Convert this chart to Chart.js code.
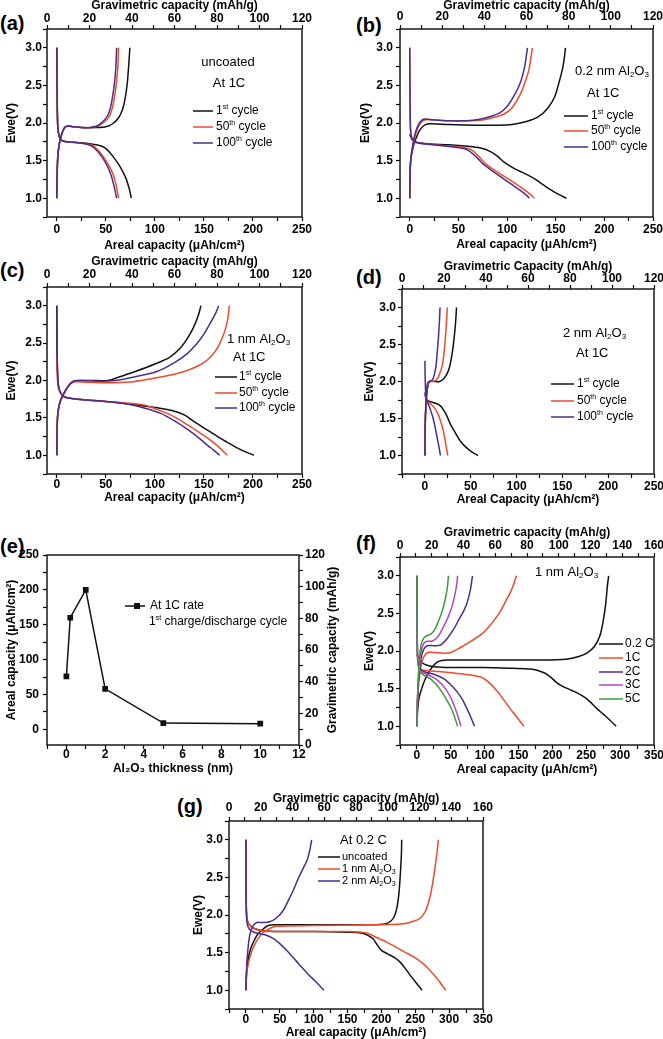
<!DOCTYPE html>
<html>
<head>
<meta charset="utf-8">
<script src="https://cdn.jsdelivr.net/npm/chart.js@4.4.0/dist/chart.umd.min.js"></script>
<style>
  body { margin: 0; background: #fff; width: 663px; height: 1039px; position: relative; overflow: hidden;
         font-family: "Liberation Sans", Arial, Helvetica, sans-serif; }
  canvas { position: absolute; }
  .lbl { position: absolute; font-weight: bold; font-size: 20px; line-height: 20px; color: #000; }
</style>
</head>
<body>
<div class="lbl" style="left:0;top:13px">(a)</div>
<div class="lbl" style="left:356px;top:15px">(b)</div>
<div class="lbl" style="left:0;top:260px">(c)</div>
<div class="lbl" style="left:356px;top:267px">(d)</div>
<div class="lbl" style="left:0;top:536px">(e)</div>
<div class="lbl" style="left:356px;top:533px">(f)</div>
<div class="lbl" style="left:177px;top:796px">(g)</div>
<script>
// --- DATA: [areal capacity (uAh/cm2), voltage (V)] ---
// (a) uncoated, 1C
const aDis1 = [[0,3.0],[0.4,2.3],[1,1.95],[2.5,1.82],[5,1.77],[10,1.75],[20,1.74],[30,1.73],[40,1.71],[46,1.69],[51,1.65],[57,1.56],[64,1.43],[70,1.28],[74,1.12],[76,1.0]];
const aDis50 = [[0,3.0],[0.4,2.3],[1,1.95],[2.5,1.82],[5,1.77],[10,1.75],[20,1.74],[30,1.72],[37,1.70],[42,1.64],[47,1.56],[52,1.46],[57,1.33],[60,1.2],[63,1.0]];
const aDis100 = [[0,3.0],[0.4,2.3],[1,1.95],[2.5,1.82],[5,1.77],[10,1.75],[20,1.74],[30,1.72],[36,1.69],[41,1.63],[46,1.55],[51,1.44],[55,1.32],[58,1.18],[61,1.0]];
const aChg1 = [[0,1.0],[0.3,1.3],[1,1.55],[2.5,1.72],[5,1.85],[8,1.94],[11,1.96],[15,1.955],[25,1.94],[40,1.94],[50,1.95],[57,1.99],[63,2.07],[67,2.18],[70,2.35],[72,2.55],[73.5,2.8],[74.5,3.0]];
const aChg50 = [[0,1.0],[0.3,1.3],[1,1.55],[2.5,1.72],[5,1.85],[8,1.94],[11,1.96],[15,1.955],[25,1.94],[35,1.94],[42,1.96],[49,2.02],[54,2.1],[57,2.22],[60,2.45],[62,2.7],[63,3.0]];
const aChg100 = [[0,1.0],[0.3,1.3],[1,1.55],[2.5,1.72],[5,1.85],[8,1.94],[11,1.96],[15,1.955],[25,1.94],[34,1.94],[41,1.96],[47,2.02],[52,2.1],[55,2.22],[58,2.45],[60,2.7],[61,3.0]];

// (b) 0.2 nm Al2O3, 1C
const bDis1 = [[0,1.85],[1,1.82],[3,1.77],[8,1.74],[20,1.72],[40,1.71],[60,1.69],[72,1.67],[83,1.62],[90,1.56],[97,1.48],[108,1.39],[118,1.33],[128,1.26],[137,1.18],[145,1.11],[153,1.05],[161,1.0]];
const bDis50 = [[0,3.0],[0.4,2.2],[1.2,1.85],[4,1.76],[10,1.73],[25,1.71],[45,1.69],[60,1.66],[66,1.62],[72,1.54],[77,1.47],[85,1.39],[97,1.29],[108,1.2],[118,1.11],[124,1.05],[128,1.0]];
const bDis100 = [[0,3.0],[0.4,2.2],[1.2,1.85],[4,1.76],[10,1.73],[25,1.71],[45,1.68],[58,1.65],[64,1.6],[70,1.53],[75,1.46],[83,1.38],[94,1.28],[104,1.19],[114,1.1],[119,1.05],[123,1.0]];
const bChg1 = [[0,1.0],[0.3,1.3],[1,1.5],[3,1.65],[6,1.78],[10,1.9],[15,1.97],[20,1.99],[40,1.98],[70,1.97],[90,1.97],[105,1.98],[120,2.02],[132,2.08],[142,2.2],[149,2.35],[153,2.52],[157,2.72],[159,2.88],[160,3.0]];
const bChg50 = [[0,1.0],[0.3,1.3],[1,1.5],[3,1.68],[6,1.85],[10,1.98],[15,2.04],[20,2.045],[40,2.03],[60,2.03],[75,2.04],[88,2.08],[97,2.12],[105,2.2],[114,2.39],[120,2.6],[123,2.74],[126,3.0]];
const bChg100 = [[0,1.0],[0.3,1.3],[1,1.5],[3,1.7],[6,1.88],[10,2.0],[14,2.05],[20,2.045],[40,2.03],[58,2.03],[72,2.05],[84,2.09],[92,2.13],[100,2.22],[108,2.38],[114,2.55],[118,2.74],[121,3.0]];

// (c) 1 nm Al2O3, 1C
const cDis1 = [[0,3.0],[0.4,2.3],[1.5,1.95],[4,1.83],[8,1.78],[15,1.76],[30,1.74],[50,1.72],[65,1.7],[88,1.66],[105,1.63],[120,1.59],[130,1.54],[140,1.45],[152,1.35],[164,1.25],[173,1.18],[181,1.12],[190,1.06],[201,1.0]];
const cDis50 = [[0,2.32],[0.5,2.05],[1.5,1.9],[4,1.83],[8,1.78],[15,1.76],[30,1.74],[50,1.72],[70,1.7],[90,1.67],[105,1.6],[119,1.52],[133,1.41],[147,1.29],[158,1.19],[166,1.1],[174,1.0]];
const cDis100 = [[0,3.0],[0.4,2.3],[1.5,1.95],[4,1.83],[8,1.78],[15,1.76],[30,1.74],[50,1.72],[70,1.69],[90,1.63],[106,1.56],[120,1.46],[133,1.35],[145,1.23],[154,1.13],[160,1.07],[166,1.0]];
const cChg1 = [[0,1.0],[0.3,1.35],[1,1.55],[3,1.7],[7,1.82],[12,1.93],[17,1.99],[22,2.0],[35,2.0],[52,2.0],[62,2.04],[80,2.12],[100,2.22],[115,2.31],[125,2.42],[133,2.56],[139,2.7],[144,2.86],[147,3.0]];
const cChg50 = [[0,1.0],[0.3,1.35],[1,1.55],[3,1.7],[7,1.82],[12,1.93],[17,1.98],[25,1.98],[50,1.97],[75,1.98],[95,2.02],[115,2.07],[130,2.12],[145,2.2],[154,2.28],[162,2.4],[167,2.52],[171,2.65],[174,2.8],[176,3.0]];
const cChg100 = [[0,1.0],[0.3,1.35],[1,1.55],[3,1.7],[7,1.82],[12,1.93],[17,1.99],[25,2.0],[45,1.99],[60,2.0],[80,2.05],[102,2.12],[120,2.24],[133,2.36],[142,2.48],[150,2.62],[157,2.78],[162,2.9],[165,3.0]];

// (d) 2 nm Al2O3, 1C
const dDis1 = [[0,1.85],[1,1.78],[3,1.74],[8,1.72],[13,1.7],[17,1.67],[20,1.62],[23,1.56],[28,1.42],[33,1.31],[39,1.19],[45,1.11],[51,1.05],[58,1.0]];
const dDis50 = [[0,1.85],[1,1.78],[3,1.73],[6,1.7],[10,1.65],[14,1.57],[17,1.47],[20,1.34],[22.5,1.17],[25,1.0]];
const dDis100 = [[0,2.28],[0.5,1.95],[1.2,1.8],[3,1.72],[6,1.62],[9,1.5],[12,1.33],[14.5,1.17],[17,1.0]];
const dChg1 = [[0,1.0],[0.3,1.4],[1,1.65],[2,1.82],[3.5,1.95],[5,2.0],[10,2.0],[16,2.0],[20,2.03],[24,2.1],[27,2.2],[30,2.4],[32,2.6],[33.5,2.8],[34.5,3.0]];
const dChg50 = [[0,1.0],[0.3,1.4],[1,1.65],[2,1.85],[3.5,1.97],[5,2.0],[9,2.0],[13,2.03],[16,2.1],[19,2.22],[21,2.4],[22.7,2.65],[23.8,2.85],[24.5,3.0]];
const dChg100 = [[0,1.0],[0.3,1.4],[1,1.7],[2,1.9],[3,1.98],[5,2.0],[8,2.02],[10,2.08],[12,2.2],[13.5,2.4],[14.8,2.6],[15.8,2.8],[16.5,3.0]];

// (e) capacity vs coating thickness, 1st cycle at 1C
const eThick = [0, 0.2, 1, 2, 5, 10];
const eCap = [76, 160, 200, 58, 9, 8];

// (f) 1 nm Al2O3 at different rates
const fDis02 = [[0,1.95],[3,1.9],[8,1.84],[15,1.81],[25,1.79],[50,1.78],[100,1.78],[140,1.77],[168,1.76],[185,1.72],[195,1.67],[205,1.59],[213,1.54],[225,1.49],[235,1.45],[245,1.4],[255,1.33],[265,1.24],[275,1.16],[285,1.08],[294,1.0]];
const fChg02 = [[0,1.0],[1,1.2],[3,1.37],[6,1.47],[11,1.6],[16,1.69],[22,1.78],[28,1.84],[35,1.87],[45,1.88],[100,1.88],[180,1.88],[220,1.89],[240,1.93],[252,1.98],[262,2.06],[270,2.2],[275,2.4],[279,2.65],[281,2.85],[283,3.0]];
const fDis1 = [[0,3.0],[0.4,2.2],[1.5,1.85],[5,1.76],[15,1.74],[40,1.72],[70,1.69],[95,1.65],[109,1.56],[120,1.45],[129,1.34],[137,1.24],[144,1.16],[151,1.08],[158,1.0]];
const fChg1 = [[0,1.0],[1,1.35],[3,1.6],[6,1.8],[10,1.92],[16,1.98],[25,1.98],[40,1.97],[50,1.98],[65,2.05],[80,2.13],[95,2.22],[104,2.3],[115,2.42],[124,2.54],[132,2.68],[139,2.8],[144,2.92],[147,3.0]];
const fDis2 = [[0,3.0],[0.4,2.2],[1.5,1.85],[5,1.76],[12,1.72],[25,1.69],[40,1.63],[50,1.55],[60,1.45],[68,1.34],[75,1.21],[80,1.11],[85,1.0]];
const fChg2 = [[0,1.0],[1,1.4],[3,1.7],[6,1.9],[10,2.02],[15,2.07],[25,2.07],[35,2.08],[45,2.17],[55,2.3],[62,2.42],[70,2.55],[75,2.67],[79,2.82],[82,3.0]];
const fDis3 = [[0,3.0],[0.4,2.2],[1.5,1.85],[5,1.74],[12,1.7],[22,1.66],[32,1.6],[42,1.5],[50,1.38],[56,1.25],[61,1.12],[65,1.0]];
const fChg3 = [[0,1.0],[1,1.4],[3,1.75],[6,1.98],[10,2.1],[15,2.13],[22,2.13],[30,2.18],[38,2.3],[46,2.45],[52,2.6],[56,2.75],[59,2.9],[60,3.0]];
const fDis5 = [[0,3.0],[0.4,2.2],[1.5,1.85],[5,1.72],[12,1.67],[20,1.63],[28,1.56],[35,1.48],[42,1.38],[50,1.25],[55,1.14],[60,1.0]];
const fChg5 = [[0,1.0],[1,1.4],[3,1.8],[6,2.08],[10,2.17],[14,2.2],[20,2.22],[26,2.28],[32,2.4],[38,2.55],[42,2.7],[45,2.85],[46.5,3.0]];

// (g) 0.2C, uncoated vs coated
const gDisUn = [[0,3.0],[0.4,2.2],[1.5,1.95],[5,1.87],[12,1.82],[25,1.79],[50,1.78],[100,1.78],[150,1.77],[170,1.76],[180,1.73],[188,1.68],[194,1.6],[200,1.53],[210,1.48],[220,1.43],[228,1.37],[236,1.28],[244,1.18],[252,1.09],[260,1.0]];
const gChgUn = [[0,1.0],[1,1.25],[3,1.4],[7,1.55],[12,1.66],[18,1.75],[25,1.81],[33,1.86],[45,1.87],[100,1.87],[180,1.87],[205,1.88],[214,1.92],[219,1.98],[223,2.1],[226,2.3],[228,2.55],[229.5,2.8],[230,3.0]];
const gDis1 = [[0,3.0],[0.4,2.2],[1.5,1.95],[5,1.87],[12,1.82],[25,1.79],[50,1.78],[100,1.78],[150,1.78],[178,1.76],[193,1.7],[208,1.64],[222,1.57],[238,1.49],[250,1.43],[262,1.35],[272,1.26],[282,1.16],[290,1.06],[295,1.0]];
const gChg1 = [[0,1.0],[1,1.2],[3.5,1.35],[8,1.5],[16,1.66],[25,1.76],[35,1.82],[45,1.85],[100,1.86],[180,1.87],[230,1.88],[245,1.91],[256,1.95],[265,2.05],[272,2.25],[277,2.5],[281,2.75],[283,2.9],[284,3.0]];
const gDis2 = [[0,3.0],[0.4,2.2],[1.5,1.9],[5,1.81],[12,1.77],[20,1.75],[30,1.73],[40,1.69],[50,1.62],[60,1.53],[70,1.43],[80,1.33],[90,1.23],[100,1.14],[108,1.07],[115,1.0]];
const gChg2 = [[0,1.0],[1,1.3],[3,1.55],[6,1.75],[10,1.85],[16,1.9],[25,1.9],[35,1.91],[45,1.96],[55,2.06],[63,2.2],[70,2.33],[78,2.5],[85,2.63],[90,2.72],[94,2.85],[97,3.0]];

const cycleNames = ['1^st cycle', '50^th cycle', '100^th cycle'];
const rateNames = ['0.2 C', '1C', '2C', '3C', '5C'];
const coatNames = ['uncoated', '1 nm Al_2O_3', '2 nm Al_2O_3'];

// --- STYLE ---
const FONT = '"Liberation Sans", Arial, Helvetica, sans-serif';
const BLACK = '#111111', RED = '#ee4b2b', PURPLE = '#4a2d8f', MAGENTA = '#b245c6', GREEN = '#3c9a3c';
const tickFont = { family: FONT, size: 12, weight: 'bold', lineHeight: 1 };
const titleFont = { family: FONT, size: 12, weight: 'bold', lineHeight: 1 };

function major(v, every) { const r = v / every; return Math.abs(r - Math.round(r)) < 1e-6; }

function axis(pos, min, max, step, every, title, tickPad, titlePad, size, fmt) {
    const horiz = pos === 'top' || pos === 'bottom';
    return {
        type: 'linear', position: pos, min: min, max: max,
        ticks: {
            stepSize: step, includeBounds: false, autoSkip: false, maxRotation: 0, minRotation: 0,
            padding: tickPad, color: '#000', font: tickFont,
            callback: v => major(v, every) ? (fmt ? fmt(v) : String(v)) : ''
        },
        grid: { drawOnChartArea: false, drawTicks: true, tickLength: 4, tickColor: '#000', tickWidth: 1.2 },
        border: { display: false },
        title: {
            display: !!title, text: title, color: '#000', font: titleFont,
            padding: pos === 'bottom' ? { top: 0, bottom: titlePad } : { top: titlePad, bottom: 0 }
        },
        afterFit: s => {
            if (horiz) s.height = size; else s.width = size;
            s.paddingLeft = 0; s.paddingRight = 0; s.paddingTop = 0; s.paddingBottom = 0;
        }
    };
}

// text with ^sup and _sub parts
function drawRich(ctx, str, x, y, size, align, bold) {
    const parts = [];
    const re = /\^(\w+)|_(\d)/g;
    let last = 0, m;
    while ((m = re.exec(str))) {
        if (m.index > last) parts.push({ s: str.slice(last, m.index), k: 0 });
        parts.push(m[1] ? { s: m[1], k: 1 } : { s: m[2], k: -1 });
        last = re.lastIndex;
    }
    if (last < str.length) parts.push({ s: str.slice(last), k: 0 });
    const small = Math.round(size * 0.62);
    const w8 = bold ? 'bold ' : '';
    let total = 0;
    parts.forEach(p => {
        ctx.font = w8 + (p.k ? small : size) + 'px ' + FONT;
        p.w = ctx.measureText(p.s).width;
        total += p.w;
    });
    let cx = align === 'center' ? x - total / 2 : x;
    ctx.textAlign = 'left';
    ctx.textBaseline = 'middle';
    ctx.fillStyle = '#000';
    parts.forEach(p => {
        ctx.font = w8 + (p.k ? small : size) + 'px ' + FONT;
        const dy = p.k === 1 ? -size * 0.33 : (p.k === -1 ? size * 0.3 : 0);
        ctx.fillText(p.s, cx, y + dy);
        cx += p.w;
    });
}

const frame = {
    id: 'frame',
    afterDraw(chart) {
        const { ctx, chartArea: a } = chart;
        ctx.save();
        ctx.strokeStyle = '#1a1a1a';
        ctx.lineWidth = 1.5;
        ctx.strokeRect(a.left, a.top, a.right - a.left, a.bottom - a.top);
        ctx.restore();
    }
};

function notes(items) {
    return {
        id: 'notes',
        afterDraw(chart) {
            const { ctx, chartArea: a } = chart;
            ctx.save();
            items.forEach(it => {
                if (it.line) {
                    ctx.strokeStyle = it.color;
                    ctx.lineWidth = 1.5;
                    ctx.beginPath();
                    ctx.moveTo(a.left + it.line[0], a.top + it.y);
                    ctx.lineTo(a.left + it.line[1], a.top + it.y);
                    ctx.stroke();
                    if (it.mark != null) {
                        ctx.fillStyle = it.color;
                        ctx.fillRect(a.left + it.mark - 3, a.top + it.y - 3, 6, 6);
                    }
                } else if (it.rot) {
                    ctx.save();
                    ctx.translate(a.left + it.x, a.top + it.y);
                    ctx.rotate(-Math.PI / 2);
                    drawRich(ctx, it.text, 0, 0, it.size, 'center', it.bold);
                    ctx.restore();
                } else {
                    drawRich(ctx, it.text, a.left + it.x, a.top + it.y, it.size, it.align, it.bold);
                }
            });
            ctx.restore();
        }
    };
}

function legend(names, colors, x1, x2, tx, ys, size) {
    const out = [];
    names.forEach((n, i) => {
        out.push({ line: [x1, x2], y: ys[i], color: colors[i] });
        out.push({ text: n, x: tx, y: ys[i], size: size });
    });
    return out;
}

function ds(points, color) {
    return {
        data: points.map(p => ({ x: p[0], y: p[1] })),
        borderColor: color, backgroundColor: color, borderWidth: 1.5,
        pointRadius: 0, showLine: true, tension: 0.3, fill: false
    };
}

function makeCanvas(left, top, w, h) {
    const c = document.createElement('canvas');
    c.width = w; c.height = h;
    c.style.left = left + 'px'; c.style.top = top + 'px';
    c.style.width = w + 'px'; c.style.height = h + 'px';
    document.body.appendChild(c);
    return c;
}

const vFmt = v => v.toFixed(1);

// --- VOLTAGE PROFILE PANELS ---
const panels = [
    { plot: [47, 29, 302, 217], padT: 29, padB: 37, padR: 16, xMin: -10, xMax: 250, topMax: 120,
      xTitle: 'Areal capacity (μAh/cm²)', topTitle: 'Gravimetric capacity (mAh/g)',
      p: { topTitle: 0, topTick: 0, botTick: 3, botTitle: 2, leftTitle: 6, leftTick: 1 },
      curves: [[aDis100, PURPLE], [aChg100, PURPLE], [aDis50, RED], [aChg50, RED], [aDis1, BLACK], [aChg1, BLACK]],
      notes: [{ text: 'uncoated', x: 181, y: 33, size: 13, align: 'center' },
              { text: 'At 1C', x: 182, y: 54, size: 13, align: 'center' }]
          .concat(legend(cycleNames, [BLACK, RED, PURPLE], 146, 166, 169, [82, 98, 114], 12)) },
    { plot: [400, 29, 653, 217], padT: 29, padB: 37, padR: 10, xMin: -10, xMax: 250, topMax: 120,
      xTitle: 'Areal capacity (μAh/cm²)', topTitle: 'Gravimetric capacity (mAh/g)',
      p: { topTitle: 0, topTick: 2, botTick: 3, botTitle: 3, leftTitle: 7, leftTick: 3 },
      curves: [[bDis100, PURPLE], [bChg100, PURPLE], [bDis50, RED], [bChg50, RED], [bDis1, BLACK], [bChg1, BLACK]],
      notes: [{ text: '0.2 nm Al_2O_3', x: 175, y: 42, size: 13 },
              { text: 'At 1C', x: 187, y: 64, size: 13 }]
          .concat(legend(cycleNames, [BLACK, RED, PURPLE], 164, 188, 191, [87, 102, 118], 12)) },
    { plot: [47, 287, 302, 474], padT: 31, padB: 37, padR: 16, xMin: -10, xMax: 250, topMax: 120,
      xTitle: 'Areal capacity (μAh/cm²)', topTitle: 'Gravimetric capacity (mAh/g)',
      p: { topTitle: 0, topTick: 2, botTick: 1, botTitle: 7, leftTitle: 6, leftTick: 1 },
      curves: [[cDis100, PURPLE], [cChg100, PURPLE], [cDis50, RED], [cChg50, RED], [cDis1, BLACK], [cChg1, BLACK]],
      notes: [{ text: '1 nm Al_2O_3', x: 180, y: 52, size: 13 },
              { text: 'At 1C', x: 186, y: 70, size: 13 }]
          .concat(legend(cycleNames, [BLACK, RED, PURPLE], 168, 190, 192, [90, 106, 121], 12)) },
    { plot: [402, 289, 654, 474], padT: 31, padB: 37, padR: 9, xMin: -25, xMax: 250, topMax: 120,
      xTitle: 'Areal Capacity (μAh/cm²)', topTitle: 'Gravimetric Capacity (mAh/g)',
      p: { topTitle: 3, topTick: 0, botTick: 3, botTitle: 5, leftTitle: 9, leftTick: 2 },
      curves: [[dDis100, PURPLE], [dChg100, PURPLE], [dDis50, RED], [dChg50, RED], [dDis1, BLACK], [dChg1, BLACK]],
      notes: [{ text: '2 nm Al_2O_3', x: 161, y: 44, size: 13 },
              { text: 'At 1C', x: 174, y: 64, size: 13 }]
          .concat(legend(cycleNames, [BLACK, RED, PURPLE], 149, 172, 175, [95, 112, 128], 12)) },
    { plot: [400, 557, 654, 745], padT: 31, padB: 37, padR: 9, xMin: -25, xMax: 350, topMax: 160,
      xTitle: 'Areal capacity (μAh/cm²)', topTitle: 'Gravimetric capacity (mAh/g)',
      p: { topTitle: 1, topTick: 1, botTick: 1, botTitle: 6, leftTitle: 11, leftTick: 2 },
      curves: [[fDis5, GREEN], [fChg5, GREEN], [fDis3, MAGENTA], [fChg3, MAGENTA], [fDis2, PURPLE], [fChg2, PURPLE],
               [fDis1, RED], [fChg1, RED], [fDis02, BLACK], [fChg02, BLACK]],
      notes: [{ text: '1 nm Al_2O_3', x: 135, y: 15, size: 13 }]
          .concat(legend(rateNames, [BLACK, RED, PURPLE, MAGENTA, GREEN], 199, 223, 225, [87, 101, 115, 128, 142], 12)) },
    { plot: [229, 821, 483, 1009], padT: 31, padB: 30, padR: 16, xMin: -25, xMax: 350, topMax: 160,
      xTitle: 'Areal capacity (μAh/cm²)', topTitle: 'Gravimetric capacity (mAh/g)',
      p: { topTitle: 3, topTick: 3, botTick: 1, botTitle: 0, leftTitle: 11, leftTick: 2 },
      curves: [[gDis2, PURPLE], [gChg2, PURPLE], [gDis1, RED], [gChg1, RED], [gDisUn, BLACK], [gChgUn, BLACK]],
      notes: [{ text: 'At 0.2 C', x: 111, y: 19, size: 13 }]
          .concat(legend(coatNames, [BLACK, RED, PURPLE], 89, 111, 113, [36, 48, 60], 11)) }
];

panels.forEach(pn => {
    const [L, T, R, B] = pn.plot;
    const padL = 47;
    const cv = makeCanvas(L - padL, T - pn.padT, (R - L) + padL + pn.padR, (B - T) + pn.padT + pn.padB);
    new Chart(cv.getContext('2d'), {
        type: 'scatter',
        data: { datasets: pn.curves.map(c => ds(c[0], c[1])) },
        options: {
            responsive: false, animation: false, events: [],
            layout: { padding: { left: 0, top: 0, bottom: 0, right: pn.padR } },
            plugins: { legend: { display: false }, tooltip: { enabled: false } },
            scales: {
                x: axis('bottom', pn.xMin, pn.xMax, 25, 50, pn.xTitle, pn.p.botTick, pn.p.botTitle, pn.padB),
                x2: axis('top', 0, pn.topMax, 10, 20, pn.topTitle, pn.p.topTick, pn.p.topTitle, pn.padT),
                y: axis('left', 0.75, 3.25, 0.25, 0.5, 'Ewe(V)', pn.p.leftTick, pn.p.leftTitle, padL, vFmt)
            }
        },
        plugins: [frame, notes(pn.notes)]
    });
});

// --- PANEL (e) ---
(function () {
    const L = 47, T = 555, R = 299, B = 745;
    const padL = 47, padTop = 10, padRight = 40, padB = 37;
    const cv = makeCanvas(L - padL, T - padTop, (R - L) + padL + padRight, (B - T) + padTop + padB);
    new Chart(cv.getContext('2d'), {
        type: 'scatter',
        data: {
            datasets: [{
                data: eThick.map((t, i) => ({ x: t, y: eCap[i] })),
                borderColor: BLACK, backgroundColor: BLACK, borderWidth: 1.5,
                pointStyle: 'rect', pointRadius: 3, showLine: true, tension: 0
            }]
        },
        options: {
            responsive: false, animation: false, events: [],
            layout: { padding: { left: 0, top: padTop, bottom: 0, right: 0 } },
            plugins: { legend: { display: false }, tooltip: { enabled: false } },
            scales: {
                x: axis('bottom', -1, 12, 1, 2, 'Al₂O₃ thickness (nm)', 0, 7, padB),
                y: axis('left', -22.5, 250, 25, 50, 'Areal capacity (μAh/cm²)', 4, 6, padL),
                y2: axis('right', 0, 120, 10, 20, '', 2, 0, padRight)
            }
        },
        plugins: [frame, notes([
            { line: [78, 98], y: 51, color: BLACK, mark: 90 },
            { text: 'At 1C rate', x: 103, y: 51, size: 12 },
            { text: '1^st charge/discharge cycle', x: 102, y: 67, size: 12 },
            { text: 'Gravimetric capacity (mAh/g)', x: 286, y: 95, size: 12, bold: true, rot: true }
        ])]
    });
})();
</script>
</body>
</html>
